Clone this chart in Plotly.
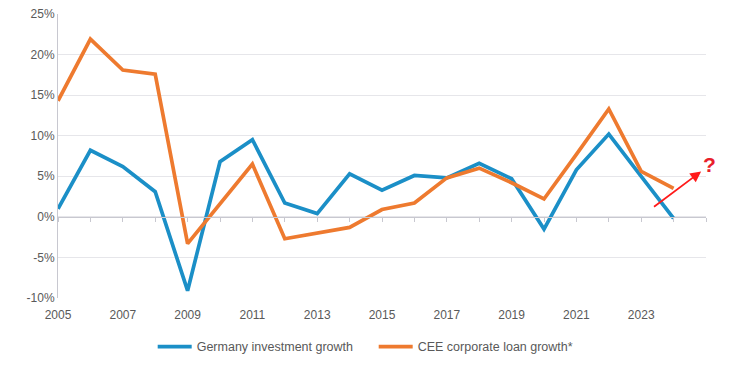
import plotly.graph_objects as go

years = list(range(2005, 2025))
germany = [1.0, 8.2, 6.2, 3.1, -9.1, 6.8, 9.5, 1.7, 0.4, 5.3,
           3.3, 5.1, 4.8, 6.6, 4.7, -1.5, 5.8, 10.2, 5.0, -0.2]
cee = [14.3, 21.9, 18.1, 17.6, -3.3, 1.6, 6.5, -2.7, -2.0, -1.3,
       0.9, 1.7, 4.8, 6.0, 4.2, 2.2, 7.7, 13.3, 5.6, 3.5]
y_ticks = [-10, -5, 0, 5, 10, 15, 20, 25]
y_labels = ["-10%", "-5%", "0%", "5%", "10%", "15%", "20%", "25%"]
x_ticks = [2005, 2007, 2009, 2011, 2013, 2015, 2017, 2019, 2021, 2023]
arrow_start = (2023.35, 1.1)
arrow_end = (2024.85, 5.6)

BLUE = "#1b8fc7"
ORANGE = "#ee7a2f"
FONT = "Liberation Sans, Arial, sans-serif"

fig = go.Figure()
fig.add_trace(go.Scatter(x=years, y=germany, mode="lines", name="Germany investment growth",
                         line=dict(color=BLUE, width=3.7)))
fig.add_trace(go.Scatter(x=years, y=cee, mode="lines", name="CEE corporate loan growth*",
                         line=dict(color=ORANGE, width=3.7)))
# helper trace for the zero-line axis with yearly ticks
fig.add_trace(go.Scatter(x=[2005, 2025], y=[0, 0], xaxis="x2", mode="lines",
                         line=dict(width=0), showlegend=False, hoverinfo="skip"))

fig.add_annotation(x=arrow_end[0], y=arrow_end[1], ax=arrow_start[0], ay=arrow_start[1],
                   xref="x", yref="y", axref="x", ayref="y", text="",
                   showarrow=True, arrowhead=2, arrowsize=1.2, arrowwidth=1.8, arrowcolor="#ff1a1a")
fig.add_annotation(x=arrow_end[0], y=arrow_end[1], xref="x", yref="y", text="<b>?</b>",
                   showarrow=False, xanchor="left", yanchor="bottom", xshift=0, yshift=-7,
                   font=dict(family=FONT, size=21, color="#e8202a"))

fig.update_layout(
    width=722, height=361,
    margin=dict(l=50, r=24, t=6, b=71, autoexpand=False),
    paper_bgcolor="white", plot_bgcolor="white",
    font=dict(family=FONT, size=12, color="#595959"),
    showlegend=True,
    legend=dict(orientation="h", xref="container", yref="container", x=0.5065, y=0.061,
                xanchor="center", yanchor="middle", font=dict(size=12.5, color="#595959"),
                itemwidth=34, entrywidth=172, tracegroupgap=0),
    xaxis=dict(range=[2005, 2025], tickmode="array", tickvals=x_ticks,
               ticktext=[str(v) for v in x_ticks], showgrid=False, zeroline=False,
               showline=False, ticks="outside", ticklen=6, tickcolor="rgba(0,0,0,0)",
               tickfont=dict(size=12, color="#595959"), automargin=False,
               ticklabeloverflow="allow"),
    xaxis2=dict(range=[2005, 2025], overlaying="x", anchor="free", position=10/35,
                side="bottom", tickmode="linear", tick0=2005, dtick=1, ticks="outside",
                ticklen=4, tickcolor="#c8c8d0", showticklabels=False, showgrid=False,
                zeroline=False, showline=True, linecolor="#c8c8d0", linewidth=1),
    yaxis=dict(range=[-10, 25], tickmode="array", tickvals=y_ticks, ticktext=y_labels,
               showgrid=True, gridcolor="#e6e6ea", gridwidth=1, zeroline=False,
               showline=True, linecolor="#c8c8d0", linewidth=1, automargin=False,
               ticklabeloverflow="allow",
               tickfont=dict(size=12, color="#595959")),
)

fig.write_html("out.html")
